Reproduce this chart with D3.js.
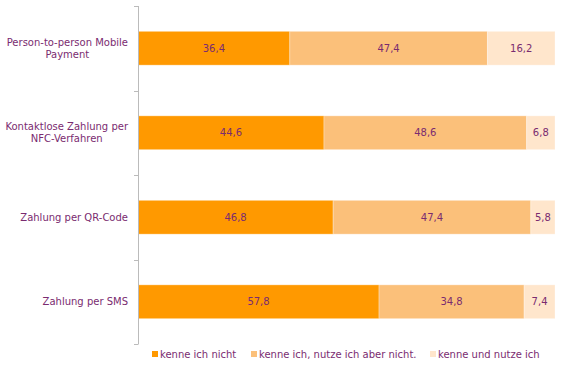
<!DOCTYPE html>
<html><head><meta charset="utf-8">
<script src="https://cdn.jsdelivr.net/npm/d3@7"></script>
<style>body{margin:0;background:#fff}svg{display:block}text{font-family:"DejaVu Sans",Verdana,sans-serif}</style>
</head><body><svg id="c" width="571" height="378"></svg>
<script>
const categories = ["Person-to-person Mobile Payment","Kontaktlose Zahlung per NFC-Verfahren","Zahlung per QR-Code","Zahlung per SMS"];
const seriesNames = ["kenne ich nicht","kenne ich, nutze ich aber nicht.","kenne und nutze ich"];
const kenneNicht = [36.4,44.6,46.8,57.8];
const kenneNichtNutze = [47.4,48.6,47.4,34.8];
const kenneNutze = [16.2,6.8,5.8,7.4];
const colors = ["#FF9900","#FBC07A","#FFE6CC"];
const textColor = "#7A2B70";

const svg = d3.select("#c");
const x = d3.scaleLinear().domain([0,100]).range([138,555]);
const y = d3.scaleBand().domain(categories).range([6,344]).paddingInner(0.6).paddingOuter(0.3);
const yAxisBand = d3.scaleBand().domain(categories).range([6,344]);

const stackData = categories.map((c,i)=>({cat:c, a:kenneNicht[i], b:kenneNichtNutze[i], c:kenneNutze[i]}));
const stack = d3.stack().keys(["a","b","c"])(stackData);

const g = svg.append("g");
stack.forEach((layer,li)=>{
  layer.forEach(d=>{
    const x0 = x(d[0]), x1 = x(d[1]);
    const yy = y(d.data.cat), h = y.bandwidth();
    g.append("rect").attr("x",x0).attr("y",yy).attr("width",x1-x0).attr("height",h)
      .attr("fill",colors[li]).attr("stroke","rgba(255,255,255,0.3)").attr("stroke-width",1);
    const v = d[1]-d[0];
    g.append("text").attr("x",(x0+x1)/2).attr("y",yy+h/2).attr("dy","0.35em")
      .attr("text-anchor","middle").attr("font-size",10).attr("fill",textColor)
      .text(d3.format(".1f")(v).replace(".",","));
  });
});

// axis line and ticks
const ax = svg.append("g");
ax.append("line").attr("x1",138.5).attr("x2",138.5).attr("y1",6).attr("y2",344).attr("stroke","#BBBBBB");
const tickYs = categories.map(c=>yAxisBand(c)).concat([yAxisBand.range()[1]]);
tickYs.forEach(t=>{
  ax.append("line").attr("x1",134).attr("x2",138.5).attr("y1",Math.round(t)+0.5).attr("y2",Math.round(t)+0.5).attr("stroke","#BBBBBB");
});

// category labels: lines centered within a block right-aligned at x=128
const labelLines = {
  "Person-to-person Mobile Payment":["Person-to-person Mobile","Payment"],
  "Kontaktlose Zahlung per NFC-Verfahren":["Kontaktlose Zahlung per","NFC-Verfahren"],
  "Zahlung per QR-Code":["Zahlung per QR-Code"],
  "Zahlung per SMS":["Zahlung per SMS"]
};
const rightEdge = 128;
categories.forEach(c=>{
  const lines = labelLines[c];
  const cy = y(c)+y.bandwidth()/2;
  const lh = 12;
  const grp = svg.append("g");
  const texts = lines.map((l,k)=>grp.append("text").attr("y",cy+(k-(lines.length-1)/2)*lh).attr("dy","0.35em")
      .attr("text-anchor","middle").attr("font-size",10).attr("fill",textColor).text(l));
  const maxW = d3.max(texts, t=>t.node().getComputedTextLength());
  texts.forEach(t=>t.attr("x", rightEdge - maxW/2));
});

// legend
const legX = [152,251,430];
seriesNames.forEach((s,i)=>{
  svg.append("rect").attr("x",legX[i]).attr("y",351).attr("width",6).attr("height",6).attr("fill",colors[i]);
  svg.append("text").attr("x",legX[i]+8).attr("y",354).attr("dy","0.35em").attr("font-size",10).attr("fill",textColor).text(s);
});
</script></body></html>
